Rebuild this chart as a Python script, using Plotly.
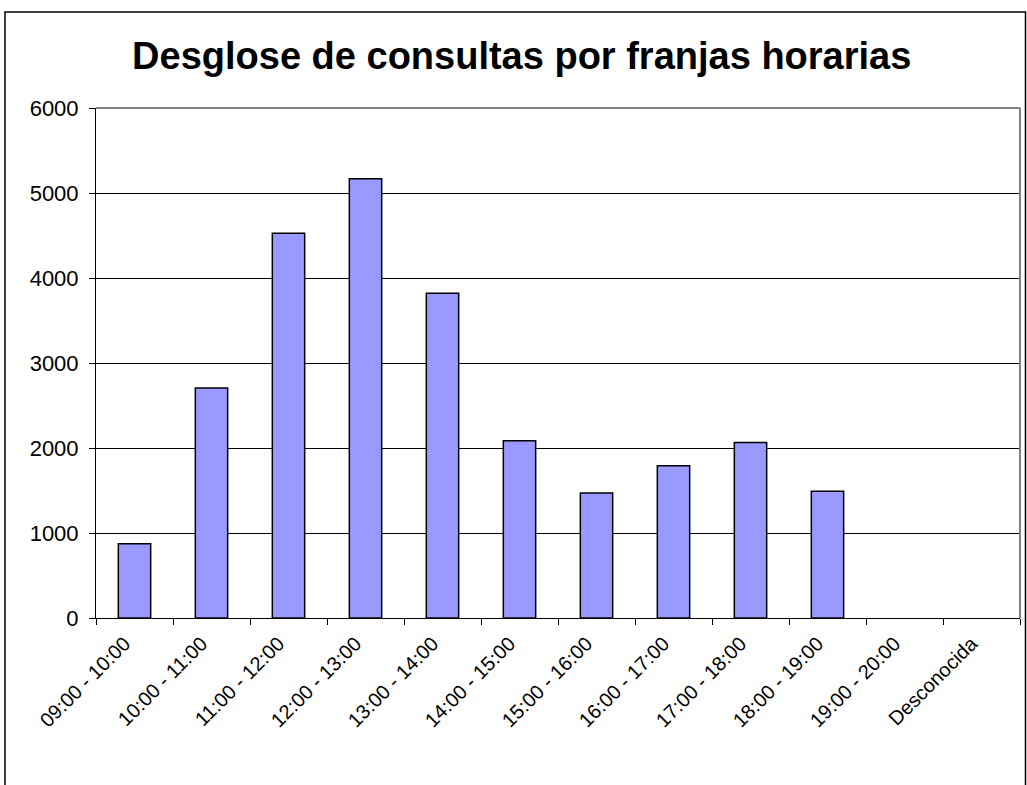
import plotly.graph_objects as go

categories = ["09:00 - 10:00", "10:00 - 11:00", "11:00 - 12:00", "12:00 - 13:00",
              "13:00 - 14:00", "14:00 - 15:00", "15:00 - 16:00", "16:00 - 17:00",
              "17:00 - 18:00", "18:00 - 19:00", "19:00 - 20:00", "Desconocida"]
consultas = [875, 2705, 4527, 5167, 3820, 2085, 1472, 1790, 2065, 1492, 0, 0]
y_ticks = [0, 1000, 2000, 3000, 4000, 5000, 6000]

W, H = 1027, 785
L, R, T, B = 96, 7, 108, 167
pw, ph = W - L - R, H - T - B

fig = go.Figure()
fig.add_trace(go.Bar(
    x=categories, y=consultas,
    marker=dict(color="#9999FF",
                line=dict(color="#000000", width=[1.5 if v > 0 else 0 for v in consultas])),
    width=0.42,
))

fig.update_layout(
    width=W, height=H,
    margin=dict(l=L, r=R, t=T, b=B, autoexpand=False),
    paper_bgcolor="white", plot_bgcolor="white",
    showlegend=False,
    title=dict(text="<b>Desglose de consultas por franjas horarias</b>",
               x=0.508, xanchor="center", y=1 - 56 / H, yanchor="middle",
               font=dict(family="Liberation Sans, Arial", size=38, color="black")),
    font=dict(family="Liberation Sans, Arial", color="black"),
)
fig.update_xaxes(
    type="category", tickangle=-45, tickson="boundaries",
    ticks="outside", ticklen=6, tickcolor="black", tickwidth=1,
    showline=True, linecolor="black", linewidth=1,
    tickfont=dict(size=20), showgrid=False,
    ticklabelshift=-10, ticklabelstandoff=5,
    range=[-0.5, len(categories) - 0.5],
)
fig.update_yaxes(
    range=[0, 6000], tickvals=y_ticks, ticks="outside", ticklen=6,
    tickcolor="black", showline=True, linecolor="black", linewidth=1,
    showgrid=True, gridcolor="black", gridwidth=1,
    tickfont=dict(size=22), zeroline=False, ticklabelstandoff=6,
)
# plot area border (top/right) in gray
fig.add_shape(type="line", xref="paper", yref="paper", x0=0, x1=1, y0=1, y1=1,
              line=dict(color="#808080", width=2))
fig.add_shape(type="line", xref="paper", yref="paper", x0=1, x1=1, y0=0, y1=1,
              line=dict(color="#808080", width=2))
# outer chart border
fig.add_shape(type="rect", xref="paper", yref="paper",
              x0=(5 - L) / pw, x1=(1025.5 - L) / pw,
              y0=(H - 800 - B) / ph, y1=(H - 12 - B) / ph,
              line=dict(color="black", width=1.5), layer="below")

fig.write_html("out.html", config={"displayModeBar": False},
               post_script="document.body.style.margin='0px';")
